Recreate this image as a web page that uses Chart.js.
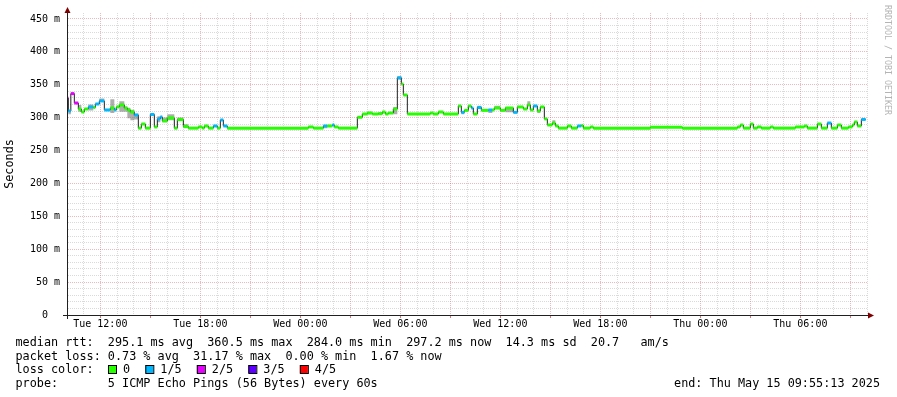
<!DOCTYPE html>
<html><head><meta charset="utf-8">
<script src="https://cdn.jsdelivr.net/npm/chart.js@4.4.1/dist/chart.umd.min.js"></script>
<style>html,body{margin:0;padding:0;background:#fff;}canvas{display:block;}</style>
</head><body>
<canvas id="c" width="897" height="397"></canvas>
<script>
// start of each median step, hours since Tue 00:00
const stepStart = [
  10.02, 10.08, 10.23, 10.44, 10.68, 10.86, 11.04, 11.28, 11.58, 11.70,
  11.94, 12.24, 12.60, 12.84, 12.96, 13.14, 13.44, 13.62, 13.80, 14.04,
  14.28, 14.46, 14.70, 15.00, 15.24, 15.42, 15.60, 15.72, 16.02, 16.44,
  16.62, 16.98, 17.28, 17.88, 18.12, 18.24, 18.48, 18.78, 19.02, 19.20,
  19.38, 19.62, 24.48, 24.78, 25.38, 25.62, 25.92, 26.04, 26.28, 27.42,
  27.72, 28.02, 28.32, 28.68, 28.92, 29.10, 29.28, 29.58, 29.82, 30.06,
  30.18, 30.42, 31.80, 31.98, 32.28, 32.58, 33.48, 33.66, 33.84, 34.08,
  34.26, 34.38, 34.62, 34.86, 35.28, 35.52, 35.64, 36.00, 36.30, 36.78,
  37.02, 37.38, 37.62, 37.80, 37.98, 38.22, 38.40, 38.64, 38.82, 39.12,
  39.30, 39.48, 40.02, 40.26, 40.62, 40.86, 40.98, 41.40, 41.58, 45.00,
  46.92, 50.22, 50.40, 50.58, 51.00, 51.18, 51.42, 51.66, 52.20, 52.38,
  53.70, 54.24, 54.42, 55.02, 55.26, 55.62, 55.86, 56.22, 56.46, 56.88,
  57.12, 57.24, 57.42, 57.66
];
const endHour = 57.92; // Thu 09:55
// median rtt (ms)
const medianRtt = [
  329.8, 310.1, 336.5, 322.2, 313.1, 308.6, 313.1, 316.2, 315.5, 320.7,
  325.3, 311.6, 314.6, 311.6, 316.2, 319.2, 314.6, 311.6, 308.6, 304.0,
  284.0, 290.3, 284.0, 304.8, 285.8, 298.0, 301.0, 295.0, 299.4, 284.0,
  297.0, 286.5, 284.0, 285.8, 284.0, 287.3, 284.0, 287.3, 284.0, 296.4,
  287.3, 284.0, 285.8, 284.0, 287.3, 287.3, 288.8, 285.8, 284.0, 300.5,
  305.5, 307.0, 305.5, 306.0, 308.6, 305.5, 307.0, 313.1, 360.5, 351.0,
  334.4, 305.5, 307.0, 305.5, 308.6, 305.5, 317.7, 308.0, 311.0, 317.7,
  314.6, 305.5, 315.4, 311.0, 311.6, 311.6, 314.6, 311.0, 314.6, 308.0,
  316.2, 313.1, 319.2, 311.6, 317.7, 310.1, 316.2, 298.0, 288.8, 291.8,
  287.3, 284.0, 287.3, 284.0, 287.3, 288.0, 284.0, 285.8, 284.0, 285.5,
  284.0, 285.8, 288.8, 284.0, 290.3, 284.0, 285.8, 284.0, 285.8, 284.0,
  285.8, 287.3, 284.0, 290.3, 284.0, 291.8, 284.0, 288.8, 284.0, 285.8,
  288.8, 293.4, 287.3, 297.2
];
// lost pings out of 5
const lostPings = [
  2,1,2,2,0,0,0,1,0,1,
  1,1,0,1,0,0,0,0,0,1,
  0,0,0,1,0,1,1,0,0,0,
  0,0,0,0,0,0,0,1,0,1,
  1,0,0,0,1,0,1,0,0,0,
  0,0,0,0,0,0,0,0,1,0,
  0,0,0,0,0,0,0,1,0,0,
  1,0,1,0,1,0,0,0,0,1,
  0,0,0,0,1,0,0,0,0,0,
  0,0,0,0,1,0,0,0,0,0,
  0,0,0,0,0,0,0,0,0,0,
  0,0,0,0,0,1,0,0,0,0,
  0,0,0,1
];
// smoke (spread of the pings), null = none visible
const smokeLow = [
  null, 305, null, null, 309, null, null, 311, null, null,
  324, null, 307, null, null, 309, 309, 299, 296, 297,
  null, null, null, null, null, 293, null, 293, 296, null,
  296, 284, null, null, null, null, null, null, null, null,
  null, null, null, null, 284, null, null, null, null, null,
  null, 305, null, 304, null, null, null, 305, 358, null,
  null, null, null, null, null, null, null, 305, null, null,
  null, null, 313, null, 307, null, 313, null, 308, null,
  null, null, 319, null, null, 307, null, null, null, 290
];
const smokeHigh = [
  null, 311, null, null, 319, null, null, 320, null, null,
  329, null, 328, null, null, 325, 317, 315, 312, 306,
  null, null, null, null, null, 302, null, 300, 305, null,
  300, 290, null, null, null, null, null, null, null, null,
  null, null, null, null, 288, null, null, null, null, null,
  null, 309, null, 308, null, null, null, 316, 363, null,
  null, null, null, null, null, null, null, 309, null, null,
  null, null, 318, null, 312, null, 318, null, 316, null,
  null, null, 325, null, null, 312, null, null, null, 296
];
const xTickHours = [12, 18, 24, 30, 36, 42, 48, 54];
const xTickLabels = ['Tue 12:00','Tue 18:00','Wed 00:00','Wed 06:00','Wed 12:00','Wed 18:00','Thu 00:00','Thu 06:00'];
const lossLabels = ['0','1/5','2/5','3/5','4/5'];
const lossColors = ['#26ff00','#00b8ff','#e600ff','#5e00ff','#ff0000'];
const statLines = [
  'median rtt:  295.1 ms avg  360.5 ms max  284.0 ms min  297.2 ms now  14.3 ms sd  20.7   am/s',
  'packet loss: 0.73 % avg  31.17 % max  0.00 % min  1.67 % now',
  'loss color:',
  'probe:       5 ICMP Echo Pings (56 Bytes) every 60s'
];
const endText = 'end: Thu May 15 09:55:13 2025';
const watermark = 'RRDTOOL / TOBI OETIKER';

const MONO = '"DejaVu Sans Mono", monospace';
const minorGrid = 'rgba(140,140,140,0.32)';
const majorGrid = 'rgba(210,70,70,0.38)';

const nextStart = i => (i + 1 < stepStart.length ? stepStart[i + 1] : endHour);
const last = medianRtt.length - 1;
const medianLine = stepStart.map((t, i) => ({x: t, y: medianRtt[i]})).concat([{x: endHour, y: medianRtt[last]}]);
const lossBand = [];
stepStart.forEach((t, i) => {
  lossBand.push({x: t, y: medianRtt[i]}, {x: nextStart(i), y: medianRtt[i]}, {x: nextStart(i), y: null});
});
const smokeOf = arr => stepStart.map((t, i) => ({x: t, y: (arr[i] ?? medianRtt[i])})).concat([{x: endHour, y: medianRtt[last]}]);

const decor = {
  id: 'decor',
  afterDraw(chart) {
    const {ctx, chartArea: a} = chart;
    const xl = Math.round(a.left - 0.5) + 0.5;
    const yb = Math.round(a.bottom - 0.5) + 0.5;
    ctx.save();
    ctx.strokeStyle = '#202020';
    ctx.lineWidth = 1;
    ctx.beginPath();
    ctx.moveTo(a.left - 4, yb); ctx.lineTo(a.right + 3, yb);
    ctx.moveTo(xl, a.bottom + 4); ctx.lineTo(xl, a.top - 3);
    ctx.stroke();
    ctx.fillStyle = '#7f0000';
    ctx.beginPath();
    ctx.moveTo(xl - 3, a.top); ctx.lineTo(xl + 3, a.top); ctx.lineTo(xl, a.top - 6); ctx.closePath(); ctx.fill();
    ctx.beginPath();
    ctx.moveTo(a.right + 1, yb - 3); ctx.lineTo(a.right + 1, yb + 3); ctx.lineTo(a.right + 7, yb); ctx.closePath(); ctx.fill();

    ctx.fillStyle = '#000';
    ctx.font = '11.8px ' + MONO;
    ctx.textBaseline = 'alphabetic';
    ctx.textAlign = 'left';
    const baselines = [346, 359.7, 373.3, 387];
    statLines.forEach((s, i) => ctx.fillText(s, 15.5, baselines[i]));
    let bx = 108;
    lossLabels.forEach((lab, i) => {
      ctx.fillStyle = lossColors[i];
      ctx.fillRect(bx, 365, 8, 8);
      ctx.strokeStyle = '#000';
      ctx.strokeRect(bx + 0.5, 365.5, 8, 8);
      ctx.fillStyle = '#000';
      const lx = bx + 15;
      ctx.fillText(lab, lx, baselines[2]);
      bx = lx + ctx.measureText(lab + '  ').width + 1;
    });
    ctx.textAlign = 'right';
    ctx.fillText(endText, 880, baselines[3]);

    ctx.translate(885, 5);
    ctx.rotate(Math.PI / 2);
    ctx.textAlign = 'left';
    ctx.fillStyle = '#b4b4b4';
    ctx.font = '8.3px ' + MONO;
    ctx.fillText(watermark, 0, 0);
    ctx.restore();
  }
};

new Chart(document.getElementById('c'), {
  type: 'line',
  data: {
    datasets: [
      {data: lossBand, borderWidth: 3, borderCapStyle: 'butt', spanGaps: false, pointRadius: 0, fill: false,
       borderColor: lossColors[0],
       segment: {borderColor: c => lossColors[lostPings[Math.floor(c.p0DataIndex / 3)]]}},
      {data: medianLine, stepped: true, borderColor: '#202020', borderWidth: 1, pointRadius: 0, fill: false},
      {data: smokeOf(smokeHigh), stepped: true, borderColor: 'rgba(0,0,0,0)', borderWidth: 1, pointRadius: 0,
       fill: '+1', backgroundColor: 'rgba(120,120,120,0.6)'},
      {data: smokeOf(smokeLow), stepped: true, borderColor: 'rgba(0,0,0,0)', borderWidth: 1, pointRadius: 0, fill: false}
    ]
  },
  options: {
    responsive: false,
    animation: false,
    events: [],
    layout: {padding: {top: 13, right: 30, left: 0, bottom: 0}},
    plugins: {legend: {display: false}, tooltip: {enabled: false}},
    scales: {
      x: {
        type: 'linear', min: 10, max: 58,
        afterFit: s => { s.height = 82; },
        ticks: {
          stepSize: 1, maxTicksLimit: 1000, autoSkip: false, maxRotation: 0, minRotation: 0, includeBounds: false,
          padding: 0, color: '#000', font: {family: MONO, size: 10},
          callback: v => { const k = xTickHours.indexOf(v); return k >= 0 ? xTickLabels[k] : ''; }
        },
        grid: {
          color: c => (c.tick && c.tick.value % 3 === 0) ? majorGrid : minorGrid,
          lineWidth: 1, tickLength: 3,
          tickColor: c => (c.tick && c.tick.value % 3 === 0) ? 'rgba(200,60,60,0.7)' : 'rgba(0,0,0,0)'
        },
        border: {display: true, color: '#202020', width: 1, dash: [1, 1]}
      },
      y: {
        min: 0, max: 459,
        afterFit: s => { s.width = 67; },
        ticks: {
          stepSize: 10, maxTicksLimit: 1000, autoSkip: false, includeBounds: false, padding: 7,
          color: '#000', font: {family: MONO, size: 10},
          callback: v => (v % 50 === 0 ? (v === 0 ? '0  ' : v + ' m') : '')
        },
        grid: {
          color: c => (c.tick && c.tick.value % 50 === 0) ? majorGrid : minorGrid,
          lineWidth: 1, drawTicks: false
        },
        border: {display: true, color: '#202020', width: 1, dash: [1, 1]},
        title: {display: true, text: 'Seconds', color: '#000', font: {family: MONO, size: 11.8}, padding: {top: 3, bottom: 0}}
      }
    }
  },
  plugins: [decor]
});
</script>
</body></html>
